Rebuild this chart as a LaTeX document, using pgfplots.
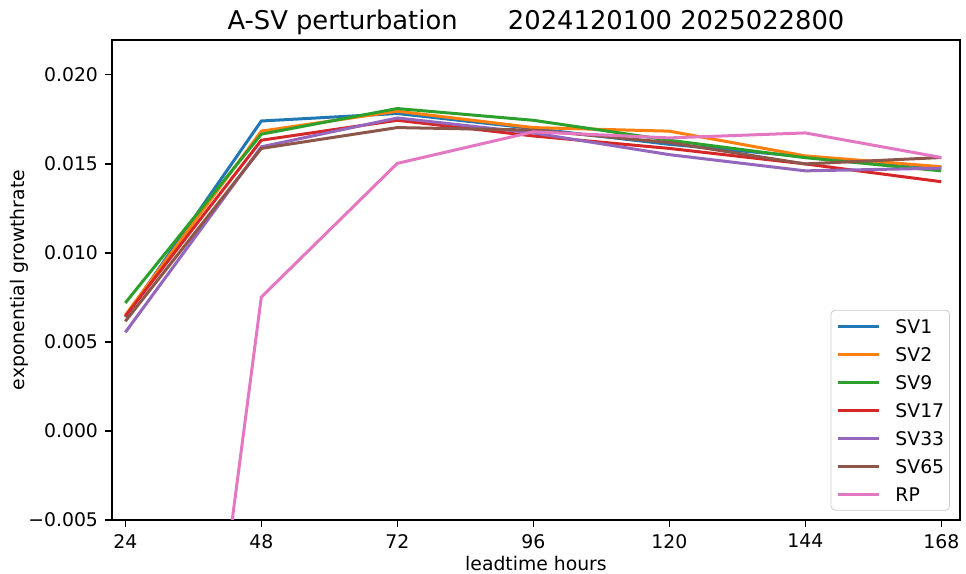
\documentclass[border=0pt]{standalone}
\usepackage{pgfplots}
\pgfplotsset{compat=1.18}
\usepackage{fontspec}
\setmainfont{DejaVu Sans}
\definecolor{c0}{HTML}{1F77B4}
\definecolor{c1}{HTML}{FF7F0E}
\definecolor{c2}{HTML}{2CA02C}
\definecolor{c3}{HTML}{D62728}
\definecolor{c4}{HTML}{9467BD}
\definecolor{c5}{HTML}{8C564B}
\definecolor{c6}{HTML}{E377C2}
\begin{document}
\begin{tikzpicture}
\begin{axis}[
  at={(0,0)}, anchor=south west,
  scale only axis, width=424pt, height=240pt,
  xmin=21.65, xmax=171.3, ymin=-0.005, ymax=0.02196,
  xtick={24,48,72,96,120,144,168},
  ytick={-0.005,0,0.005,0.01,0.015,0.02},
  yticklabels={−0.005,0.000,0.005,0.010,0.015,0.020},
  /pgf/number format/assume math mode=true,
  tick label style={font=\fontsize{9.4}{11}\selectfont},
  label style={font=\fontsize{9.4}{11}\selectfont},
  xlabel={leadtime hours}, ylabel={exponential growthrate},
  xlabel style={yshift=3pt},
  ylabel style={yshift=-7pt},
  title={A-SV perturbation\hspace{1.95em}2024120100 2025022800},
  title style={font=\fontsize{12.9}{15}\selectfont, yshift=-7pt},
  axis line style={line width=0.65pt},
  tick style={line width=0.6pt, black},
  major tick length=3.5pt,
  tick align=outside,
  xtick pos=bottom, ytick pos=left,
  scaled y ticks=false,
  every axis plot/.append style={line width=1.5pt},
  legend cell align=left,
  legend image code/.code={\draw[#1] (0pt,0pt) -- (20.5pt,0pt);},
  legend style={at={(1,0)}, anchor=south east, xshift=-5pt, yshift=4.7pt,
    draw=black!20, rounded corners=2pt, fill=white, fill opacity=0.8, text opacity=1,
    font=\fontsize{9.4}{11}\selectfont, inner xsep=2.7pt, inner ysep=4.5pt,
    row sep=7pt,
    nodes={inner sep=0pt, text height=7pt, text depth=0pt},
    /tikz/every odd column/.append style={column sep=7.5pt}},
]
\addplot[c0] coordinates {(24,0.0064) (48,0.01741) (72,0.01783) (96,0.01699) (120,0.0161) (144,0.0154) (168,0.0148)};
\addlegendentry{SV1}
\addplot[c1] coordinates {(24,0.0065) (48,0.01684) (72,0.01796) (96,0.01704) (120,0.01684) (144,0.01545) (168,0.01484)};
\addlegendentry{SV2}
\addplot[c2] coordinates {(24,0.00719) (48,0.01667) (72,0.01811) (96,0.01745) (120,0.01633) (144,0.01535) (168,0.01461)};
\addlegendentry{SV9}
\addplot[c3] coordinates {(24,0.00644) (48,0.01633) (72,0.01745) (96,0.01657) (120,0.01587) (144,0.0150) (168,0.0140)};
\addlegendentry{SV17}
\addplot[c4] coordinates {(24,0.00554) (48,0.01596) (72,0.01758) (96,0.01674) (120,0.01552) (144,0.01461) (168,0.01476)};
\addlegendentry{SV33}
\addplot[c5] coordinates {(24,0.00616) (48,0.01587) (72,0.01704) (96,0.0169) (120,0.0162) (144,0.0150) (168,0.01536)};
\addlegendentry{SV65}
\addplot[c6] coordinates {(24,-0.051) (48,0.00752) (72,0.01503) (96,0.0168) (120,0.01646) (144,0.01674) (168,0.01536)};
\addlegendentry{RP}
\end{axis}
\pgfresetboundingbox
\useasboundingbox (-56pt,-27pt) rectangle (427pt,260pt);
\end{tikzpicture}
\end{document}
